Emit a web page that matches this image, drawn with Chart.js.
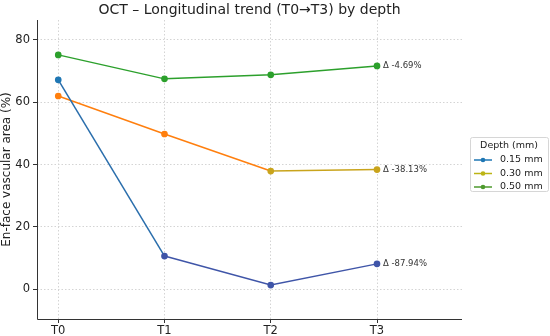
<!DOCTYPE html>
<html>
<head>
<meta charset="utf-8">
<script src="https://cdn.jsdelivr.net/npm/chart.js@4"></script>
<style>
  html, body { margin: 0; padding: 0; background: #fff; }
  #wrap { width: 550px; height: 336px; }
</style>
</head>
<body>
<div id="wrap"><canvas id="octChart" width="550" height="336"></canvas></div>
<script>
  // data
  const timepoints = ['T0', 'T1', 'T2', 'T3'];
  const depths = ['0.15 mm', '0.30 mm', '0.50 mm'];
  const d015 = [67.2, 10.6, 1.3, 8.1];
  const d030 = [62.0, 49.8, 37.9, 38.36];
  const d050 = [75.2, 67.5, 68.8, 71.67];
  const deltas = ['Δ -87.94%', 'Δ -38.13%', 'Δ -4.69%'];
  const yTicks = [0, 20, 40, 60, 80];

  const lineColors = ['#3d5aa6', '#c9a41c', '#2ca02c'];
  // per-segment colours (the reference shifts hue along the lines)
  const segColors = [
    ['#2a6eac', '#3f55a8', '#3f55a8'],
    ['#ff7f0e', '#ff7f0e', '#c9a41c'],
    ['#2ca02c', '#2ca02c', '#2ca02c'],
  ];
  const pointColors = [
    ['#1f77b4', '#3f55a8', '#3f55a8', '#3f55a8'],
    ['#ff7f0e', '#ff7f0e', '#c9a41c', '#c9a41c'],
    ['#2ca02c', '#2ca02c', '#2ca02c', '#2ca02c'],
  ];
  const legendColors = ['#1f77b4', '#bcb414', '#4e9a2e'];

  const series = [d015, d030, d050];
  const font = "'DejaVu Sans', sans-serif";

  const datasets = series.map((vals, i) => ({
    label: depths[i],
    data: vals.map((v, k) => ({ x: k, y: v })),
    borderColor: lineColors[i],
    backgroundColor: pointColors[i],
    pointBackgroundColor: pointColors[i],
    pointBorderColor: pointColors[i],
    borderWidth: 1.5,
    pointRadius: 2.6,
    segment: { borderColor: ctx => segColors[i][ctx.p0DataIndex] },
  }));

  // title, spines, end labels and legend drawn on the canvas
  const extras = {
    id: 'extras',
    afterDraw(chart) {
      const { ctx, scales: { x, y }, chartArea } = chart;
      ctx.save();
      // left and bottom spines, solid
      ctx.strokeStyle = '#333';
      ctx.lineWidth = 1;
      ctx.setLineDash([]);
      ctx.beginPath();
      ctx.moveTo(chartArea.left + 0.5, chartArea.top);
      ctx.lineTo(chartArea.left + 0.5, chartArea.bottom + 0.5);
      ctx.lineTo(chartArea.right, chartArea.bottom + 0.5);
      ctx.stroke();

      ctx.fillStyle = '#222';
      ctx.font = '14px ' + font;
      ctx.textAlign = 'center';
      ctx.textBaseline = 'middle';
      ctx.fillText('OCT – Longitudinal trend (T0→T3) by depth', (chartArea.left + chartArea.right) / 2, 10);

      ctx.font = '8.5px ' + font;
      ctx.textAlign = 'left';
      ctx.fillStyle = '#333';
      series.forEach((vals, i) => {
        ctx.fillText(deltas[i], x.getPixelForValue(3) + 6, y.getPixelForValue(vals[3]));
      });

      // legend
      const bx = 470, by = 137, bw = 78, bh = 54;
      ctx.fillStyle = 'rgba(255,255,255,0.9)';
      ctx.strokeStyle = '#d6d6d6';
      ctx.lineWidth = 1;
      ctx.beginPath();
      ctx.roundRect(bx + 0.5, by + 0.5, bw, bh, 2);
      ctx.fill();
      ctx.stroke();
      ctx.fillStyle = '#222';
      ctx.font = '9.5px ' + font;
      ctx.textAlign = 'center';
      ctx.fillText('Depth (mm)', bx + bw / 2, by + 9);
      ctx.textAlign = 'left';
      depths.forEach((lab, i) => {
        const ly = by + 23 + i * 13.5;
        ctx.strokeStyle = legendColors[i];
        ctx.lineWidth = 1.5;
        ctx.beginPath();
        ctx.moveTo(bx + 4, ly);
        ctx.lineTo(bx + 22, ly);
        ctx.stroke();
        ctx.fillStyle = legendColors[i];
        ctx.beginPath();
        ctx.arc(bx + 13, ly, 2.3, 0, Math.PI * 2);
        ctx.fill();
        ctx.fillStyle = '#222';
        ctx.fillText(lab, bx + 30, ly);
      });
      ctx.restore();
    }
  };

  const gridStyle = { color: '#d4d4d4', tickLength: 4, tickColor: '#333', tickBorderDash: [] };
  const borderStyle = { display: false, dash: [1.5, 2] };

  const config = {
    type: 'line',
    data: { datasets },
    options: {
      responsive: false,
      animation: false,
      layout: { padding: { top: 20, right: 88, left: 0, bottom: 0 } },
      scales: {
        x: {
          type: 'linear',
          min: -0.2,
          max: 3.8,
          afterBuildTicks: s => { s.ticks = timepoints.map((t, k) => ({ value: k })); },
          afterFit: s => { s.height = 17; },
          ticks: {
            callback: v => timepoints[v],
            color: '#222',
            font: { family: font, size: 11.5 },
            padding: 1,
          },
          grid: gridStyle,
          border: borderStyle,
        },
        y: {
          min: -9.6,
          max: 86.4,
          afterBuildTicks: s => { s.ticks = yTicks.map(v => ({ value: v })); },
          afterFit: s => { s.width = 37; },
          ticks: {
            color: '#222',
            font: { family: font, size: 11.5 },
            padding: 3,
          },
          title: {
            display: true,
            text: 'En-face vascular area (%)',
            color: '#222',
            font: { family: font, size: 12 },
            padding: 0,
          },
          grid: gridStyle,
          border: borderStyle,
        },
      },
      plugins: {
        legend: { display: false },
        title: { display: false },
        tooltip: { enabled: false },
      },
    },
    plugins: [extras],
  };

  new Chart(document.getElementById('octChart').getContext('2d'), config);
</script>
</body>
</html>
